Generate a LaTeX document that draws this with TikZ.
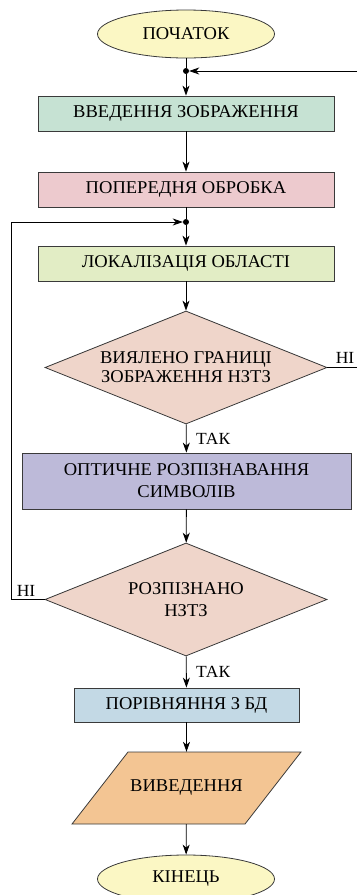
\documentclass[tikz,border=0pt]{standalone}
\usepackage{fontspec}
\setmainfont{Liberation Serif}[FakeStretch=1.03]
\usetikzlibrary{shapes.geometric,arrows.meta}
\definecolor{linec}{HTML}{3A3A3A}
\definecolor{termc}{HTML}{FBF7C4}
\definecolor{cA}{HTML}{C6E2D3}
\definecolor{cB}{HTML}{EDCACE}
\definecolor{cC}{HTML}{E2EDC5}
\definecolor{decc}{HTML}{EFD5CA}
\definecolor{cD}{HTML}{BDBAD9}
\definecolor{cE}{HTML}{C3D9E5}
\definecolor{outc}{HTML}{F3C593}
\begin{document}
\begin{tikzpicture}[x=1pt,y=-1pt,
  font=\fontsize{18}{19}\selectfont,
  term/.style={ellipse,draw=linec,fill=termc,minimum width=177pt,minimum height=48pt,inner sep=0pt,line width=0.8pt},
  proc/.style={rectangle,draw=linec,line width=0.8pt,minimum width=296pt,minimum height=35pt,inner sep=0pt,align=center},
  dec/.style={diamond,draw=linec,fill=decc,line width=0.8pt,minimum width=282pt,minimum height=113pt,inner sep=0pt},
  conn/.style={line width=0.8pt,draw=black},
  arr/.style={conn,-{Stealth[length=10pt,width=7pt,inset=3pt]}},
  jdot/.style={circle,fill=black,inner sep=0pt,minimum size=6pt},
  lab/.style={font=\fontsize{17}{19}\selectfont}
]
\useasboundingbox (0,0) rectangle (357,895);
\clip (0,0) rectangle (357,895);
\node[term] (start) at (186,34) {ПОЧАТОК};
\node[jdot] (j1) at (186,71) {};
\coordinate (r1) at (357,71);
\node[proc,fill=cA] (b1) at (186,113.5) {ВВЕДЕННЯ ЗОБРАЖЕННЯ};
\node[proc,fill=cB] (b2) at (186,189.5) {ПОПЕРЕДНЯ ОБРОБКА};
\node[jdot] (j2) at (186,222) {};
\node[proc,fill=cC] (b3) at (186,263.5) {ЛОКАЛІЗАЦІЯ ОБЛАСТІ};
\node[dec,label={[align=center]center:{ВИЯЛЕНО ГРАНИЦІ\\ЗОБРАЖЕННЯ НЗТЗ}}] (d1) at (186,367.5) {};
\node[proc,fill=cD,minimum width=329pt,minimum height=56pt,font=\fontsize{18}{22}\selectfont] (b4) at (186.5,481) {ОПТИЧНЕ РОЗПІЗНАВАННЯ\\СИМВОЛІВ};
\node[dec,label={[align=center,font=\fontsize{18}{22}\selectfont]center:{РОЗПІЗНАНО\\НЗТЗ}}] (d2) at (186,599.5) {};
\node[proc,fill=cE,minimum width=225pt,minimum height=34pt] (b5) at (186.5,705) {ПОРІВНЯННЯ З БД};
\draw[draw=linec,fill=outc,line width=0.8pt] (72,824) -- (128,752) -- (301,752) -- (245,824) -- cycle;
\node[minimum width=173pt,minimum height=72pt,inner sep=0pt] (out) at (186.5,788) {ВИВЕДЕННЯ};
\node[term] (end) at (186,879) {КІНЕЦЬ};
\coordinate (r2) at (357,367.5);
\coordinate (l1) at (11,222);
\coordinate (l2) at (11,599.5);
\node[lab] (ni1) at (345,358) {НІ};
\node[lab] (ni2) at (26,591) {НІ};
\draw[conn] (start) -- (j1);
\draw[arr] (j1) -- (b1);
\draw[arr] (r1) -- (j1);
\draw[arr] (b1) -- (b2);
\draw[conn] (b2) -- (j2);
\draw[arr] (j2) -- (b3);
\draw[arr] (l2) -- (l1) -- (j2);
\draw[conn] (d2.west) -- (l2);
\draw[arr] (b3) -- (d1);
\draw[arr] (d1) -- node[lab,right=6pt] (t1) {ТАК} (b4);
\draw[conn] (d1.east) -- (r2);
\draw[arr] (b4) -- (d2);
\draw[arr] (d2) -- node[lab,right=6pt] (t2) {ТАК} (b5);
\draw[arr] (b5) -- (out);
\draw[arr] (out) -- (end);
\end{tikzpicture}
\end{document}
